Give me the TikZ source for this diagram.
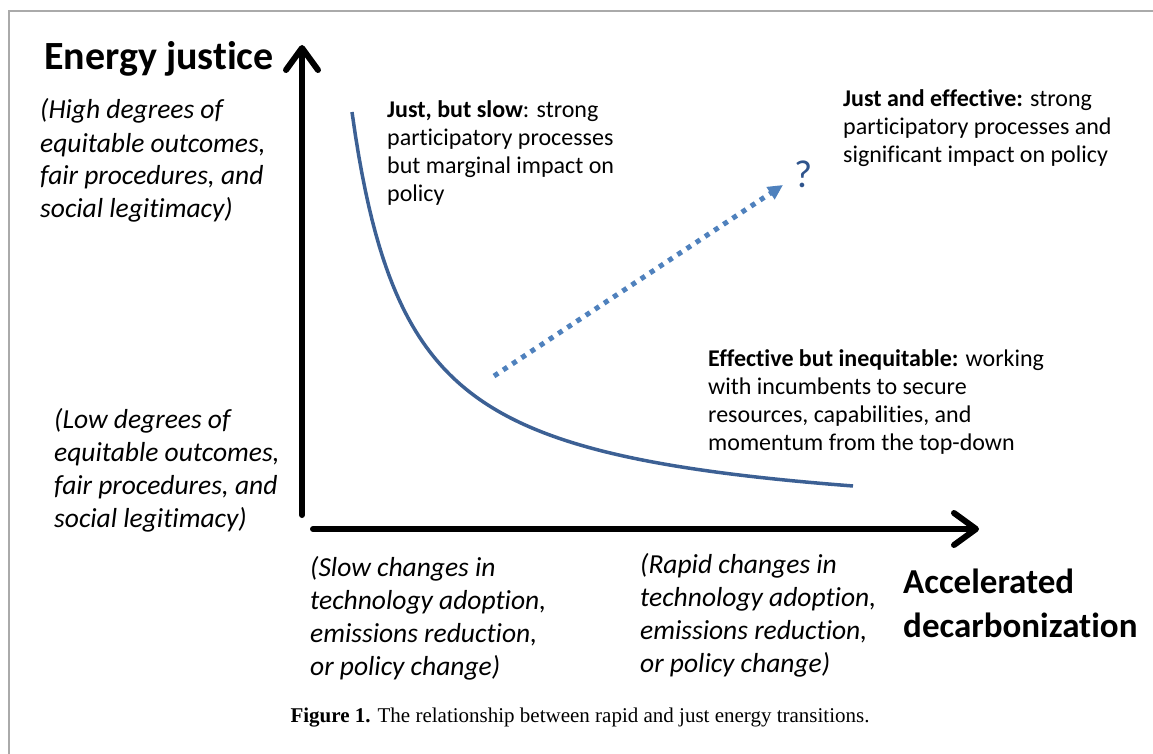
\documentclass[tikz,border=0pt]{standalone}
\usepackage{fontspec}
\setmainfont{Carlito}[Ligatures=NoCommon]
\newfontfamily\capfont{Liberation Serif}
\usetikzlibrary{arrows.meta}
\definecolor{curveblue}{RGB}{60,96,148}
\definecolor{dotblue}{RGB}{79,129,189}
\definecolor{qblue}{RGB}{47,84,140}
\definecolor{framegray}{RGB}{170,170,170}
\begin{document}
\begin{tikzpicture}[x=1pt,y=-1pt,
  axis/.style={line width=6pt, line cap=round, -{Straight Barb[length=22pt,width=32pt,round]}},
  txt/.style={inner sep=0pt, anchor=base west, align=left},
  bigbold/.style={txt, font=\fontsize{40}{44}\selectfont\bfseries},
  ital/.style={txt, font=\fontsize{27.5}{33}\selectfont\itshape},
  body/.style={txt, font=\fontsize{24}{28}\selectfont},
  accbold/.style={txt, font=\fontsize{35}{44}\selectfont\bfseries}]
\useasboundingbox (0,0) rectangle (1153,754);
% page frame
\draw[framegray, line width=2pt] (8.5,754) -- (8.5,11) -- (1153,11);
% axes
\coordinate (yo) at (302,515);
\coordinate (yt) at (302,45);
\coordinate (xo) at (313,529);
\coordinate (xt) at (979,529);
\draw[axis] (yo) -- (yt);
\draw[axis] (xo) -- (xt);
% curve
\draw[curveblue, line width=3.5pt] plot[domain=57.5:558.5, samples=150, variable=\u]
  ({294.5+\u}, {528.9-2397/(\u/10)});
% dotted arrow
\coordinate (ds) at (494,376);
\coordinate (de) at (783,185);
\draw[dotblue, line width=5pt, dash pattern=on 5pt off 6pt, -{Triangle[length=15pt,width=14pt]}] (ds) -- (de);
\node[txt, text=qblue, font=\fontsize{39}{39}\selectfont] (q) at (794,188) {?};
% axis titles (anchored at the baseline of the last line)
\node[bigbold] (ej) at (44,70) {Energy justice};
\node[accbold] (ad) at (903,637) {Accelerated\\decarbonization};
% left descriptions
\node[ital] (high) at (40,218) {(High degrees of\\equitable outcomes,\\fair procedures, and\\social legitimacy)};
\node[ital] (low) at (54,527) {(Low degrees of\\equitable outcomes,\\fair procedures, and\\social legitimacy)};
% bottom descriptions
\node[ital] (slow) at (310,675) {(Slow changes in\\technology adoption,\\emissions reduction,\\or policy change)};
\node[ital] (rapid) at (640,672) {(Rapid changes in\\technology adoption,\\emissions reduction,\\or policy change)};
% quadrant labels
\node[body] (jbs) at (387,201) {\textbf{Just, but slow}: strong\\participatory processes\\but marginal impact on\\policy};
\node[body] (jae) at (843,163) {\textbf{Just and effective:} strong\\participatory processes and\\significant impact on policy};
\node[body] (ebi) at (708,450) {\textbf{Effective but inequitable:} working\\with incumbents to secure\\resources, capabilities, and\\momentum from the top-down};
% caption
\node[inner sep=0pt, anchor=base, font=\capfont\fontsize{21}{21}\selectfont] (cap) at (580,722)
  {\textbf{Figure 1.} The relationship between rapid and just energy transitions.};
\end{tikzpicture}
\end{document}
